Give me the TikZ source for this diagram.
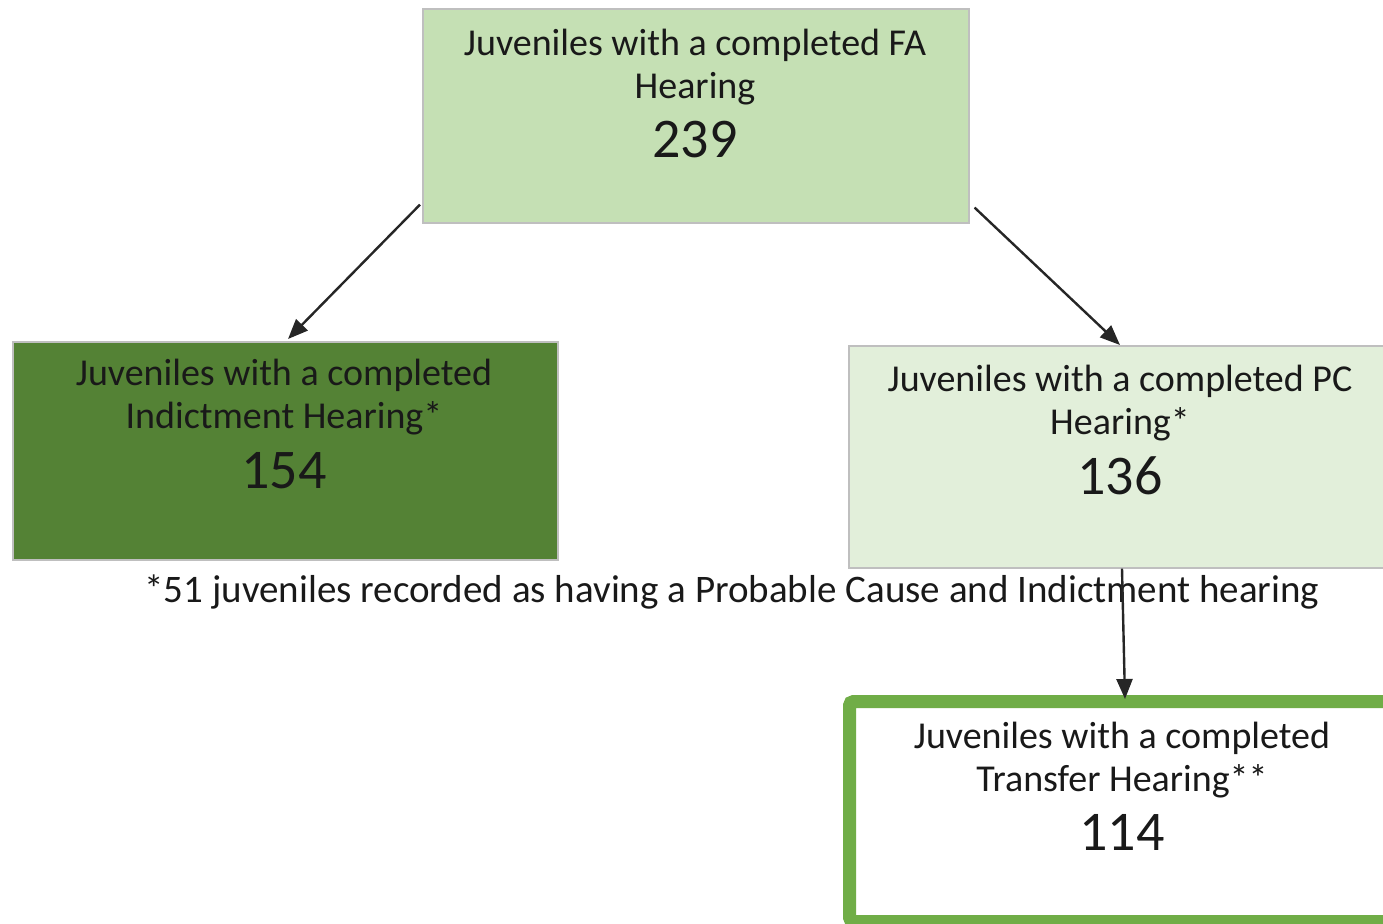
\documentclass[tikz,border=0pt]{standalone}
\usepackage{fontspec}
\setmainfont{Carlito}
\usetikzlibrary{arrows.meta,calc}
\definecolor{topfill}{HTML}{C5E0B4}
\definecolor{leftfill}{HTML}{548235}
\definecolor{rightfill}{HTML}{E2EFDA}
\definecolor{boxline}{HTML}{BFBFBF}
\definecolor{greenline}{HTML}{70AD47}
\begin{document}
\begin{tikzpicture}[x=0.5pt,y=-0.5pt,
  box/.style={draw=boxline,line width=0.8pt,anchor=north west,inner sep=0pt},
  lbl/.style={anchor=base,align=center,font=\fontsize{19}{21.5}\selectfont,text=black!90,inner sep=0pt},
  num/.style={anchor=base,font=\fontsize{28}{30}\selectfont,text=black!90,inner sep=0pt},
  conn/.style={line width=1.2pt,black!85,-{Triangle[length=10pt,width=8pt]}}]
\useasboundingbox (0,0) rectangle (1383,923);
\begin{scope}
\clip (0,0) rectangle (1383,923);
% boxes
\node[box,fill=topfill,minimum width=273pt,minimum height=107pt] (top) at (422,8) {};
\node[box,fill=leftfill,minimum width=272.5pt,minimum height=109pt] (left) at (12,341) {};
\node[box,fill=rightfill,minimum width=280pt,minimum height=111pt] (right) at (848,345) {};
\node[draw=greenline,line width=6.5pt,fill=white,anchor=north west,inner sep=0pt,
      minimum width=285pt,minimum height=110pt,rounded corners=2pt] (bottom) at (843,695) {};
% texts
\node[lbl] (toptxt) at (695,98) {Juveniles with a completed FA\\Hearing};
\node[num] (topnum) at (695,157) {239};
\node[lbl] (lefttxt) at (284,428) {Juveniles with a completed\\Indictment Hearing*};
\node[num] (leftnum) at (284,488) {154};
\node[lbl] (righttxt) at (1120,434) {Juveniles with a completed PC\\Hearing*};
\node[num] (rightnum) at (1120,494) {136};
\node[lbl] (bottomtxt) at (1122,791) {Juveniles with a completed\\Transfer Hearing**};
\node[num] (bottomnum) at (1122,850) {114};
% footnote
\node[lbl,font=\fontsize{19.5}{21.5}\selectfont] (note) at (732,602) {*51 juveniles recorded as having a Probable Cause and Indictment hearing};
% connectors
\coordinate (a1) at ($(top.south west)+(-2,-19)$);
\coordinate (a2) at ($(left.north west)+(276,-2)$);
\coordinate (b1) at ($(top.south east)+(5,-16)$);
\coordinate (b2) at ($(right.north west)+(272,0)$);
\coordinate (c1) at ($(right.south west)+(274,0)$);
\coordinate (c2) at ($(bottom.north west)+(282,4)$);
\draw[conn] (a1) -- (a2);
\draw[conn] (b1) -- (b2);
\draw[conn] (c1) -- (c2);
\end{scope}
\end{tikzpicture}
\end{document}
